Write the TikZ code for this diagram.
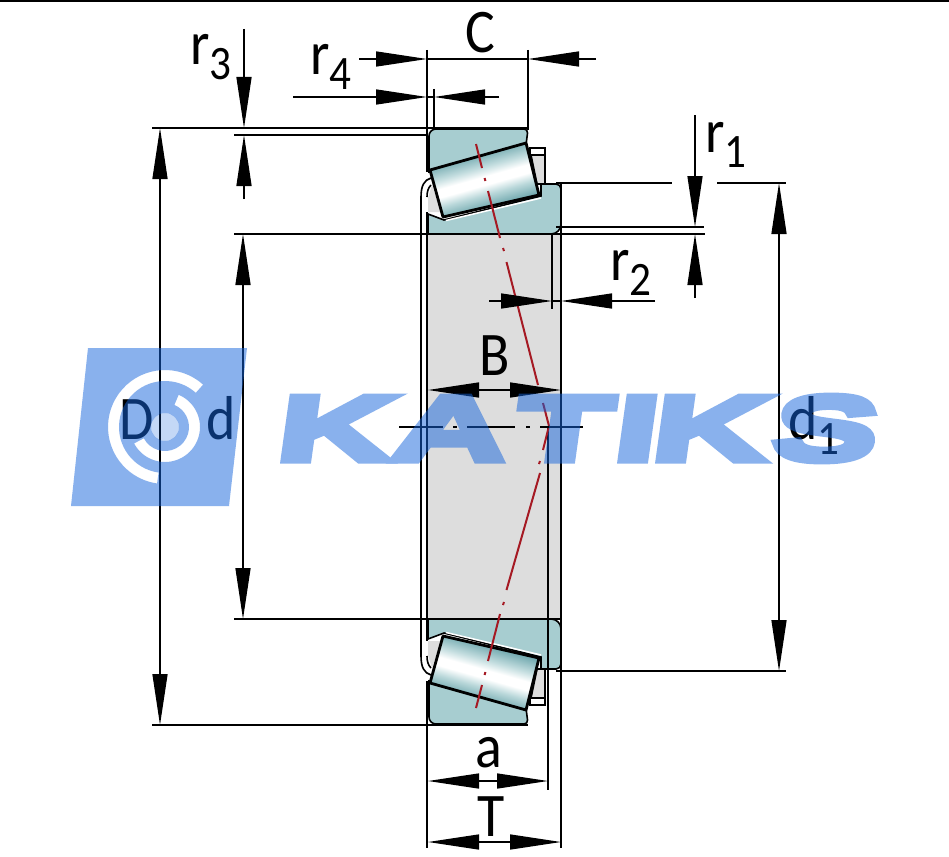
\documentclass[tikz,border=0pt]{standalone}
\usepackage{fontspec}
\setmainfont[FakeStretch=0.9]{Carlito}
\newfontfamily\wmfont[FakeStretch=1.75,FakeBold=9,FakeSlant=0.14]{Liberation Sans Bold}
\usetikzlibrary{arrows.meta}
\definecolor{ringteal}{RGB}{167,205,208}
\definecolor{cagegray}{RGB}{221,221,221}
\definecolor{wmblue}{RGB}{20,100,220}
\definecolor{axisred}{RGB}{165,25,35}
\definecolor{rollerend}{RGB}{112,168,174}
\pgfdeclareverticalshading{rollershade}{100bp}{
  color(0bp)=(rollerend);
  color(33bp)=(rollerend);
  color(41bp)=(ringteal!80!white);
  color(47bp)=(white);
  color(52bp)=(white);
  color(58bp)=(ringteal!70!white);
  color(67bp)=(rollerend);
  color(100bp)=(rollerend)}
\newcommand{\subl}[2]{#1\raisebox{-15pt}{\fontsize{48}{48}\selectfont #2}}
\tikzset{
  dimline/.style={line width=1.4pt},
  onetip/.style={dimline,-{Triangle[length=51pt,width=15pt]}},
  bothtip/.style={dimline,{Triangle[length=51pt,width=15pt]}-{Triangle[length=51pt,width=15pt]}},
  ringfill/.style={fill=ringteal,draw=black,line width=1.6pt},
  cagefill/.style={fill=cagegray,draw=black,line width=1.6pt},
  dimlabel/.style={font=\fontsize{62}{62}\selectfont,inner sep=0pt,anchor=base west},
  axisline/.style={draw=axisred,line width=2pt},
  wmletter/.style={font=\wmfont\fontsize{90}{90}\selectfont,text=wmblue,inner sep=0pt,anchor=base}
}
\begin{document}
\begin{tikzpicture}[x=1pt,y=-1pt]
\useasboundingbox (0,0) rectangle (949,856);
\fill[white] (0,0) rectangle (949,856);
\draw[line width=2pt] (0,1) -- (949,1);
% bore
\fill[cagegray] (427,234) rectangle (561,619);
\draw[line width=1.6pt] (421,197) -- (421,656);
% upper and lower section
\foreach \sy/\off/\ang in {1/0/15.7,-1/853/-15.7}{
  \begin{scope}[shift={(0,\off)},yscale=\sy]
    \draw[line width=1.6pt,fill=white] (530,148) rectangle (545,155);
    \filldraw[cagefill] (531,155) -- (545,155) -- (545,184) -- (537,184) -- cycle;
    \draw[line width=1.6pt] (421,197) .. controls (421,186) and (424,180) .. (431,178);
    \draw[line width=1.6pt] (427,197) .. controls (427,192) and (428,188) .. (431,185);
    \fill[cagegray] (428,198) -- (432,185) -- (441,212) -- (428,212) -- cycle;
    \filldraw[ringfill] (541,184) [rounded corners=5pt] -- (561,184) [rounded corners=10pt] -- (561,234) [sharp corners] -- (428,234) -- (428,214) -- (444,220) -- (541,196) -- cycle;
    \filldraw[ringfill] (429,172) [rounded corners=7pt] -- (429,129) [rounded corners=4pt] -- (528,129) [sharp corners] -- (526,145) -- cycle;
    \shadedraw[shading=rollershade,shading angle=\ang,line width=2.8pt,line join=round] (430,170) -- (526,143) -- (539,195) -- (443,217) -- cycle;
    \draw[white,line width=1.5pt] (446,220.5) -- (541,198);
  \end{scope}
}
% extension lines
\draw[dimline] (152,128) -- (528,128);
\draw[dimline] (234,135) -- (428,135);
\draw[dimline] (234,234) -- (705,234);
\draw[dimline] (234,619) -- (561,619);
\draw[dimline] (152,725) -- (528,725);
\draw[dimline] (556,227) -- (704,227);
\draw[dimline] (556,183) -- (672,183);
\draw[dimline] (717,183) -- (786,183);
\draw[dimline] (556,671) -- (786,671);
\draw[dimline] (427,50) -- (427,172);
\draw[dimline] (427,212) -- (427,641);
\draw[dimline] (427,681) -- (427,848);
\draw[dimline] (528,50) -- (528,130);
\draw[dimline] (434,89) -- (434,128);
\draw[line width=1.6pt] (561,184) -- (561,848);
\draw[dimline] (552,234) -- (552,309);
\draw[dimline] (548,428) -- (548,790);
% centre lines
\foreach \xa/\ya/\xb/\yb in {476/144/482/168,484.6/178/485.4/181,488/191/500/238,503/248/504/251,506.5/262/538/385,
  540/473/506.5/590,504/602/503/605,500/614/488/661,485.4/672/484.6/675,482/685/476/708}{
  \draw[axisline] (\xa,\ya) -- (\xb,\yb);
}
\draw[axisline] (543,403) -- (549,426) -- (543,450);
\draw[axisline] (540,461) -- (539,464);
\foreach \xa/\xb in {399/443,453/457,467/515,526/530,540/583}{
  \draw[line width=1.5pt] (\xa,427) -- (\xb,427);
}
% dimensions
\draw[bothtip] (160,128) -- (160,725);
\draw[bothtip] (243,234) -- (243,619);
\draw[bothtip] (779,183) -- (779,671);
\draw[onetip] (244,29) -- (244,128);
\draw[onetip] (244,199) -- (244,135);
\draw[onetip] (695,115) -- (695,227);
\draw[onetip] (695,298) -- (695,234);
\draw[onetip] (359,59) -- (427,59);
\draw[dimline] (427,59) -- (528,59);
\draw[onetip] (596,59) -- (528,59);
\draw[onetip] (293,97) -- (427,97);
\draw[dimline] (427,97) -- (434,97);
\draw[onetip] (499,97) -- (434,97);
\draw[onetip] (489,301) -- (552,301);
\draw[dimline] (552,301) -- (561,301);
\draw[onetip] (655,301) -- (561,301);
\draw[bothtip] (428,390) -- (561,390);
\draw[bothtip] (428,781) -- (548,781);
\draw[bothtip] (428,842) -- (561,842);
% labels
\node[dimlabel] (lblC) at (465,53) {C};
\node[dimlabel] (lblrthree) at (190,65) {\subl{r}{3}};
\node[dimlabel] (lblrfour) at (310,75) {\subl{r}{4}};
\node[dimlabel] (lblrone) at (705,152) {\subl{r}{1}};
\node[dimlabel] (lblrtwo) at (610,280) {\subl{r}{2}};
\node[dimlabel] (lblB) at (479,375) {B};
\node[dimlabel] (lblD) at (119,439) {D};
\node[dimlabel] (lbld) at (206,439) {d};
\node[dimlabel] (lbldone) at (788,439) {\subl{d}{1}};
\node[dimlabel] (lbla) at (475,767) {a};
\node[dimlabel] (lblT) at (477,836) {T};
% watermark
\begin{scope}[opacity=0.5,transparency group]
  \fill[wmblue,even odd rule] (88,348) -- (247,348) -- (229,506) -- (71,506) -- cycle
    (165,427) circle (14pt)
    (165,427) ++(67:35pt) arc[start angle=67,end angle=-152,radius=35pt] -- ++(28:11pt) arc[start angle=-152,end angle=67,radius=24pt] -- cycle
    (165,427) ++(48:57pt) arc[start angle=48,end angle=262,radius=57pt] -- ++(82:11pt) arc[start angle=262,end angle=48,radius=46pt] -- cycle;
  \foreach \ltr/\px in {K/331,A/447,T/560,I/633,K/706,S/822}{
    \node[wmletter] (wm\px) at (\px,459.5) {\ltr};
  }
\end{scope}
\fill[wmblue,opacity=0.25] (165,427) circle (14pt);
\end{tikzpicture}
\end{document}
